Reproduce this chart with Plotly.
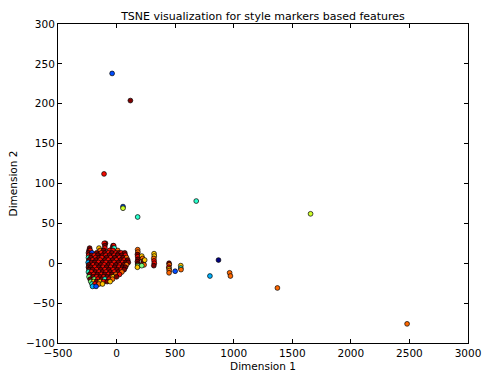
import numpy as np
import plotly.graph_objects as go

# ---- data: (Dimension 1, Dimension 2, class label 0..10) ----
out_x = [-38, 118, -107, 55, 55, 180, 680, 870, 797, 965, 972, 1656, 1373, 2480, 500, 548, 548, 550]
out_y = [238, 204, 112, 71, 69, 58, 78, 4, -16, -12, -16, 62, -31, -76, -10, -3, -6, -8]
out_c = [2, 10, 9, 2, 6, 4, 4, 0, 3, 8, 8, 6, 8, 8, 2, 7, 4, 8]

col_x = [180, 182, 178, 180, 182, 178, 180, 182, 178,
         215, 222, 230, 225, 235, 215, 240,
         320, 322, 318, 320, 322, 318,
         448, 450, 446, 448, 450, 448]
col_y = [17, 14, 11, 8, 5, 2, -1, -3, -5,
         9, 6, 3, 0, -2, -3, 4,
         12, 9, 6, 3, 0, -3,
         0, -2, -5, -7, -9, -12]
col_c = [8, 8, 10, 9, 10, 10, 10, 5, 7,
         7, 8, 9, 10, 8, 5, 7,
         7, 7, 8, 9, 9, 10,
         10, 8, 9, 7, 8, 8]

main_x = [-95, -105,
          -100, -30, -25,
          -230, -100, -35, -20, -150,
          -235, -225, -140, -110, -60, -30, 10,
          -240, -210, -170, -130, -100, -70, -40, -5, 20, 40, 70,
          -238, -215, -190, -160, -120, -90, -60, -20, 10, 45, 75,
          -240, -220, -180, -150, -125, -85, -50, -15, 25, 55, 85,
          -236, -205, -175, -140, -100, -70, -35, 0, 35, 65, 95,
          -242, -215, -185, -155, -120, -90, -55, -20, 15, 50, 80, 100,
          -238, -200, -170, -135, -105, -70, -40, -5, 30, 60, 85,
          -240, -220, -185, -150, -115, -85, -50, -15, 20, 50, 75,
          -235, -205, -170, -135, -100, -65, -30, 5, 40, 65,
          -240, -215, -180, -150, -120, -90, -55, -20, 15, 45,
          -230, -195, -165, -130, -100, -70, -40, -5, 25,
          -235, -200, -170, -140, -110, -80, -45, -30, 0,
          -225, -190, -160, -125, -100, -65, -35,
          -220, -195, -170, -140, -110, -80, -55,
          -210, -185, -150, -120,
          -205, -175]
main_y = [25, 25,
          22, 22, 22,
          19, 19, 19, 19, 19,
          16, 16, 16, 16, 16, 16, 16,
          13, 13, 13, 13, 13, 13, 13, 13, 13, 13, 13,
          10, 10, 10, 10, 10, 10, 10, 10, 10, 10, 10,
          7, 7, 7, 7, 7, 7, 7, 7, 7, 7, 7,
          4, 4, 4, 4, 4, 4, 4, 4, 4, 4, 4,
          1, 1, 1, 1, 1, 1, 1, 1, 1, 1, 1, 1,
          -2, -2, -2, -2, -2, -2, -2, -2, -2, -2, -2,
          -5, -5, -5, -5, -5, -5, -5, -5, -5, -5, -5,
          -8, -8, -8, -8, -8, -8, -8, -8, -8, -8,
          -11, -11, -11, -11, -11, -11, -11, -11, -11, -11,
          -14, -14, -14, -14, -14, -14, -14, -14, -14,
          -17, -17, -17, -17, -17, -17, -17, -17, -17,
          -20, -20, -20, -20, -20, -20, -20,
          -23, -23, -23, -23, -23, -23, -23,
          -26, -26, -26, -26,
          -29, -29]
main_c = [10, 9,
          10, 10, 9,
          10, 9, 10, 4, 7,
          10, 9, 8, 10, 9, 9, 8,
          10, 2, 10, 9, 10, 9, 10, 9, 10, 9, 10,
          9, 10, 9, 10, 10, 9, 10, 9, 10, 10, 9,
          4, 10, 9, 10, 9, 10, 9, 10, 9, 10, 8,
          10, 9, 10, 9, 10, 9, 10, 9, 10, 9, 10,
          3, 10, 10, 9, 10, 9, 10, 9, 10, 9, 10, 10,
          10, 9, 10, 10, 9, 10, 9, 10, 9, 10, 8,
          10, 10, 9, 10, 9, 10, 9, 10, 9, 10, 10,
          10, 10, 9, 10, 9, 10, 9, 10, 9, 10,
          4, 9, 10, 9, 10, 9, 10, 9, 10, 8,
          10, 9, 10, 9, 10, 9, 10, 8, 9,
          5, 10, 9, 10, 9, 10, 9, 7, 10,
          10, 5, 9, 10, 4, 9, 8,
          5, 7, 10, 7, 9, 10, 7,
          4, 9, 8, 7,
          3, 2]

xs = main_x + col_x + out_x
ys = main_y + col_y + out_y
cs = main_c + col_c + out_c

# ---- matplotlib "jet" colormap as a plotly colorscale ----
stops = [0, 0.11, 0.125, 0.34, 0.35, 0.375, 0.64, 0.65, 0.66, 0.89, 0.91, 1]
def comp(pts, t):
    return float(np.interp(t, [p[0] for p in pts], [p[1] for p in pts]))
R = [(0, 0), (0.35, 0), (0.66, 1), (0.89, 1), (1, 0.5)]
G = [(0, 0), (0.125, 0), (0.375, 1), (0.64, 1), (0.91, 0), (1, 0)]
B = [(0, 0.5), (0.11, 1), (0.34, 1), (0.65, 0), (1, 0)]
jet = [[t, "rgb(%d,%d,%d)" % (round(255 * comp(R, t)), round(255 * comp(G, t)), round(255 * comp(B, t)))]
       for t in stops]

font = "DejaVu Sans"
fig = go.Figure(go.Scatter(
    x=xs, y=ys, mode="markers",
    marker=dict(size=4.8, color=cs, colorscale=jet, cmin=0, cmax=10,
                line=dict(color="black", width=0.7)),
    hoverinfo="x+y",
))

axis_common = dict(showgrid=False, zeroline=False, showline=True, linecolor="black",
                   linewidth=1, mirror="ticks", ticks="inside", ticklen=4,
                   tickcolor="black", tickwidth=1, automargin=False,
                   tickfont=dict(family=font, size=10.5, color="black"))
fig.update_xaxes(range=[-500, 3000], dtick=500, tick0=0,
                 title=dict(text="Dimension 1", font=dict(family=font, size=10.5, color="black"), standoff=5),
                 **axis_common)
fig.update_yaxes(range=[-100, 300], dtick=50, tick0=0,
                 title=dict(text="Dimension 2", font=dict(family=font, size=10.5, color="black"), standoff=6),
                 **axis_common)
fig.update_layout(
    width=482, height=372,
    margin=dict(l=58, r=14, t=24, b=29),
    paper_bgcolor="white", plot_bgcolor="white",
    showlegend=False,
    title=dict(text="TSNE visualization for style markers based features",
               font=dict(family=font, size=11, color="black"),
               x=0.5, xref="paper", xanchor="center", y=1, yref="container", yanchor="top", pad=dict(t=12)),
)
fig.write_html("out.html")
